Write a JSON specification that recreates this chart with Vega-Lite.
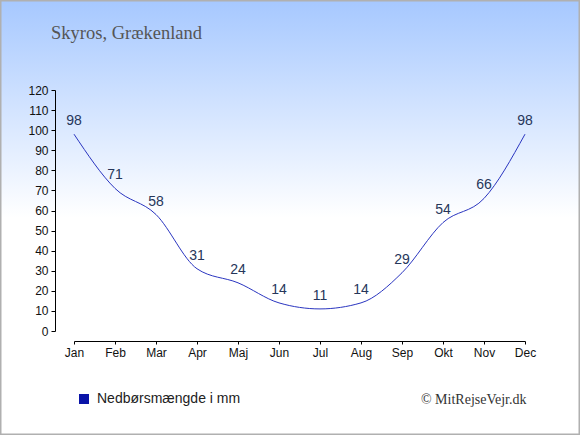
{
  "$schema": "https://vega.github.io/schema/vega-lite/v6.json",
  "width": 580,
  "height": 435,
  "autosize": {"type": "none"},
  "padding": 0,
  "title": {"text": "Skyros, Grækenland", "anchor": "start", "frame": "group", "offset": 0, "dx": 51, "dy": 57, "baseline": "alphabetic", "font": "Liberation Serif", "fontSize": 18.5, "fontWeight": "normal", "color": "#555555"},
  "config": {
    "view": {"fill": {"gradient": "linear", "x1": 0, "y1": 0, "x2": 0, "y2": 1, "stops": [{"offset": 0, "color": "#a6c8ff"}, {"offset": 0.5, "color": "#ffffff"}, {"offset": 1, "color": "#ffffff"}]}, "stroke": "#b0b0b0", "strokeWidth": 3},
    "axis": {"labelFont": "Liberation Sans", "labelFontSize": 12, "labelColor": "#111111", "domainColor": "#000000", "tickColor": "#000000", "grid": false, "domainWidth": 1, "tickWidth": 1}
  },
  "data": {"values": [
    {"m": "Jan", "v": 98, "s": "Nedbørsmængde i mm"},
    {"m": "Feb", "v": 71, "s": "Nedbørsmængde i mm"},
    {"m": "Mar", "v": 58, "s": "Nedbørsmængde i mm"},
    {"m": "Apr", "v": 31, "s": "Nedbørsmængde i mm"},
    {"m": "Maj", "v": 24, "s": "Nedbørsmængde i mm"},
    {"m": "Jun", "v": 14, "s": "Nedbørsmængde i mm"},
    {"m": "Jul", "v": 11, "s": "Nedbørsmængde i mm"},
    {"m": "Aug", "v": 14, "s": "Nedbørsmængde i mm"},
    {"m": "Sep", "v": 29, "s": "Nedbørsmængde i mm"},
    {"m": "Okt", "v": 54, "s": "Nedbørsmængde i mm"},
    {"m": "Nov", "v": 66, "s": "Nedbørsmængde i mm"},
    {"m": "Dec", "v": 98, "s": "Nedbørsmængde i mm"}
  ]},
  "encoding": {
    "x": {"field": "m", "type": "ordinal", "sort": null,
      "scale": {"type": "point", "range": [74, 525], "padding": 0},
      "axis": {"orient": "bottom", "offset": -94, "labelAngle": 0, "tickSize": 3, "labelPadding": 3, "title": "© MitRejseVejr.dk", "titleFont": "Liberation Serif", "titleFontSize": 14, "titleFontWeight": "normal", "titleColor": "#333333", "titleAnchor": "end", "titleAlign": "right", "titleBaseline": "alphabetic", "titleX": 526, "titleY": 62}},
    "y": {"field": "v", "type": "quantitative",
      "scale": {"domain": [0, 120], "range": [331, 90], "nice": false},
      "axis": {"orient": "left", "offset": -55, "values": [0, 10, 20, 30, 40, 50, 60, 70, 80, 90, 100, 110, 120], "tickSize": 4, "labelPadding": 3, "title": null}}
  },
  "layer": [
    {"mark": {"type": "line", "interpolate": "monotone", "strokeWidth": 1},
     "encoding": {"color": {"field": "s", "type": "nominal", "scale": {"range": ["#2a35c0"]},
       "legend": {"title": null, "orient": "none", "legendX": 77, "legendY": 392, "padding": 0, "symbolType": "square", "symbolSize": 100, "symbolFillColor": "#0a14a8", "symbolStrokeColor": "#0a14a8", "symbolStrokeWidth": 0, "labelFont": "Liberation Sans", "labelFontSize": 14, "labelColor": "#222222", "labelOffset": 6}}}},
    {"mark": {"type": "text", "baseline": "middle", "dy": -13, "font": "Liberation Sans", "fontSize": 14, "color": "#26365a"},
     "encoding": {"text": {"field": "v", "type": "quantitative"}}}
  ]
}
